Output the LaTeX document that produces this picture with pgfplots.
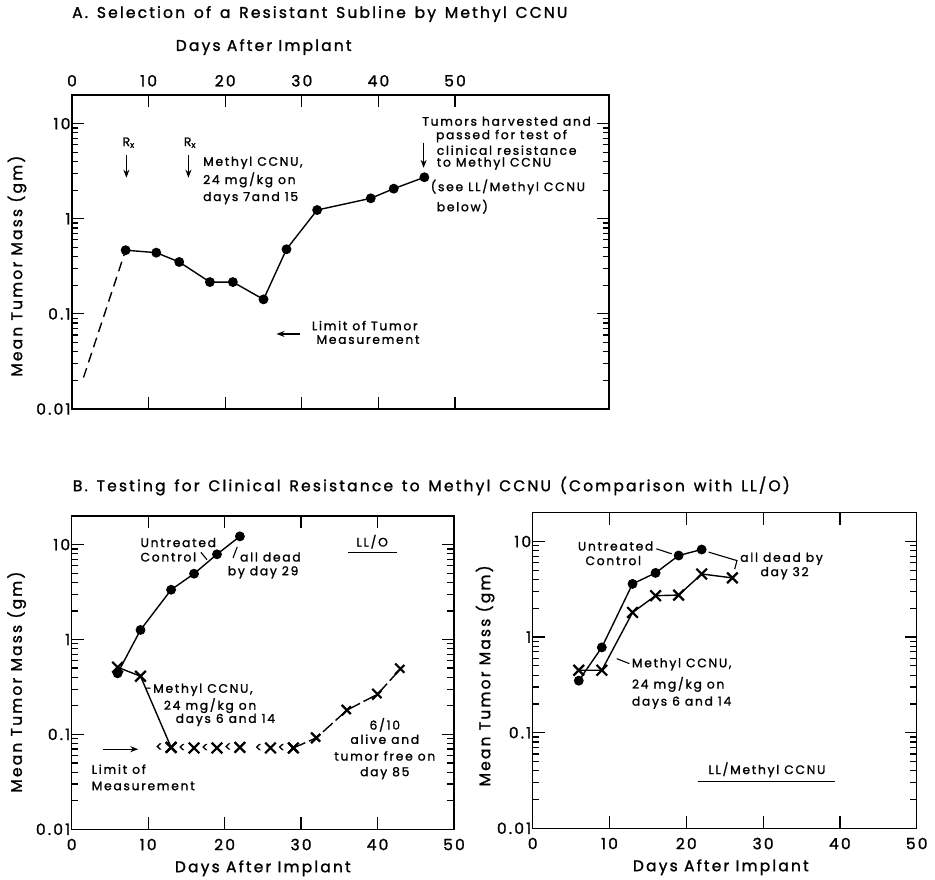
\documentclass[border=0pt]{standalone}
\usepackage{fontspec}
\setmainfont{Poppins}[LetterSpace=14, FakeBold=1.4]
\newfontfamily\titlefont{Poppins}[LetterSpace=14, FakeBold=1.4, WordSpace=1.4]
\usepackage{pgfplots}
\pgfplotsset{compat=1.18}
\usetikzlibrary{arrows.meta}
\newcommand{\ann}{\fontsize{12.3}{13}\selectfont}
\pgfplotsset{
  myaxis/.style={
    scale only axis, clip=false,
    xmin=0, xmax=50, ymin=0.01, ymax=20,
    xtick={0,10,20,30,40,50},
    ytick={0.01,0.1,1,10}, yticklabels={0.01,0.1,1,10},
    minor ytick={0.02,0.03,0.04,0.05,0.06,0.07,0.08,0.09,0.2,0.3,0.4,0.5,0.6,0.7,0.8,0.9,2,3,4,5,6,7,8,9},
    tick align=inside,
    major tick length=12pt, minor tick length=6.5pt,
    axis line style={line width=1.4pt},
    tick style={black, line width=1.2pt},
    tick label style={font=\fontsize{15.5}{16}\selectfont},
    yticklabel style={xshift=2pt},
    xlabel style={font=\fontsize{15.5}{16}\selectfont, anchor=center},
    ylabel style={font=\fontsize{15.5}{16}\selectfont, anchor=center},
    /pgf/number format/assume math mode=true,
    yticklabel pos=left,
    ylabel={Mean Tumor Mass (gm)},
    xlabel={Days After Implant},
    anchor=south west,
  },
  myctrl/.style={black, line width=1.4pt, mark=*, mark size=4.2pt},
  mydrug/.style={black, line width=1.4pt, mark=x, mark size=7.5pt, mark options={line width=2.2pt}},
}
\tikzset{
  txt/.style={inner sep=0pt, font=\ann},
  arr/.style={line width=1.3pt, -{Stealth[length=8pt,width=6pt]}},
}
\begin{document}
\begin{tikzpicture}
\useasboundingbox (0pt,0pt) rectangle (935pt,880pt);
\node[anchor=west, inner sep=0pt, font=\titlefont\fontsize{15.5}{16}\selectfont] at (72pt,866pt) {A. Selection of a Resistant Subline by Methyl CCNU};
\node[anchor=west, inner sep=0pt, font=\titlefont\fontsize{15.5}{16}\selectfont] at (72.7pt,394pt) {B. Testing for Clinical Resistance to Methyl CCNU (Comparison with LL/O)};

% ---------------- Panel A ----------------
\begin{semilogyaxis}[myaxis, at={(72pt,471pt)}, width=537pt, height=314pt, xmax=70.1, xticklabel pos=upper,
  xticklabel style={yshift=5pt},
  xlabel style={at={(axis description cs:0.357,1)}, yshift=48pt},
  ylabel style={at={(axis description cs:-0.1024,0.455)}}]
\addplot[black, line width=1.4pt, dash pattern=on 10pt off 6pt] coordinates {(1.5,0.0214) (7,0.467)};
\addplot[myctrl] coordinates {(7,0.467) (11,0.44) (14,0.351) (18,0.216) (21,0.216) (25,0.142) (28,0.478) (32,1.235) (39,1.64) (42,2.07) (46,2.73)};
\node[txt] at (axis cs:7.4,6.3) {R\textsubscript{x}};
\node[txt] at (axis cs:15.4,6.3) {R\textsubscript{x}};
\draw[arr] (axis cs:7.1,4.7) -- (axis cs:7.1,2.7);
\draw[arr] (axis cs:15.2,4.7) -- (axis cs:15.2,2.7);
\node[txt, anchor=west] at (axis cs:17.1,3.87) {Methyl CCNU,};
\node[txt, anchor=west] at (axis cs:17.1,2.56) {24 mg/kg on};
\node[txt, anchor=west] at (axis cs:17.1,1.65) {days 7and 15};
\draw[arr] (axis cs:29.8,0.0615) -- (axis cs:26.7,0.0615);
\node[txt, anchor=west] at (axis cs:31.3,0.0753) {Limit of Tumor};
\node[txt, anchor=west] at (axis cs:31.9,0.0536) {Measurement};
\node[txt, anchor=west] at (axis cs:45.7,10.6) {Tumors harvested and};
\node[txt, anchor=west] at (axis cs:47.5,7.4) {passed for test of};
\node[txt, anchor=west] at (axis cs:47.6,5.25) {clinical resistance};
\node[txt, anchor=west] at (axis cs:47.6,3.8) {to Methyl CCNU};
\draw[arr] (axis cs:45.9,6.3) -- (axis cs:45.9,3.43);
\node[txt, anchor=west] at (axis cs:46.8,2.16) {(see LL/Methyl CCNU};
\node[txt, anchor=west] at (axis cs:47.6,1.34) {below)};
\end{semilogyaxis}

% ---------------- Panel B left ----------------
\begin{semilogyaxis}[myaxis, at={(71.7pt,50.7pt)}, width=382.3pt, height=313.3pt,
  xticklabel style={yshift=-6pt},
  xlabel style={at={(axis description cs:0.5,0)}, yshift=-39pt},
  ylabel style={at={(axis description cs:-0.1439,0.47)}}]
\addplot[myctrl] coordinates {(6,0.44) (9,1.26) (13,3.34) (16,4.93) (19,7.9) (22,12.2)};
\addplot[mydrug] coordinates {(6,0.51) (9,0.41) (13,0.073)};
\addplot[mydrug, only marks, nodes near coords={<}, nodes near coords align={anchor=center},
  every node near coord/.append style={xshift=-12pt, font=\fontsize{13}{13}\selectfont, inner sep=0pt}]
  coordinates {(13,0.073) (16,0.072) (19,0.072) (22,0.073) (26,0.072) (29,0.072)};
\addplot[mydrug, dash pattern=on 13pt off 4pt] coordinates {(29,0.072) (32,0.092) (36,0.18) (40,0.265) (43,0.49)};
\node[txt, anchor=east] at (axis cs:18.9,10.5) {Untreated};
\node[txt, anchor=east] at (axis cs:16.3,7.4) {Control};
\draw[line width=1.1pt] (axis cs:16.9,8.28) -- (axis cs:17.7,6.93);
\node[txt, anchor=west] at (axis cs:22.0,7.4) {all dead};
\node[txt, anchor=west] at (axis cs:20.4,5.1) {by day 29};
\draw[line width=1.1pt] (axis cs:21.1,7.23) -- (axis cs:21.65,9.44);
\node[txt] at (axis cs:39.3,10.7) {LL/O};
\draw[line width=1.3pt] (axis cs:36.2,8.28) -- (axis cs:42.6,8.28);
\node[txt] at (axis cs:16.6,0.295) {-Methyl CCNU,};
\node[txt] at (axis cs:18.1,0.201) {24 mg/kg on};
\node[txt] at (axis cs:20.1,0.142) {days 6 and 14};
\draw[arr] (axis cs:4.13,0.0698) -- (axis cs:8.7,0.0698);
\node[txt, anchor=west] at (axis cs:2.6,0.043) {Limit of};
\node[txt, anchor=west] at (axis cs:2.6,0.0286) {Measurement};
\node[txt] at (axis cs:40.95,0.126) {6/10};
\node[txt] at (axis cs:40.95,0.0889) {alive and};
\node[txt] at (axis cs:40.95,0.0593) {tumor free on};
\node[txt] at (axis cs:40.95,0.039) {day 85};
\end{semilogyaxis}

% ---------------- Panel B right ----------------
\begin{semilogyaxis}[myaxis, at={(532.7pt,51.7pt)}, width=384pt, height=315.6pt,
  xticklabel style={yshift=-6pt},
  xlabel style={at={(axis description cs:0.49,0)}, yshift=-39pt},
  ylabel style={at={(axis description cs:-0.124,0.483)}}]
\addplot[myctrl] coordinates {(6,0.35) (9,0.78) (13,3.6) (16,4.69) (19,7.13) (22,8.24)};
\addplot[mydrug] coordinates {(6,0.45) (9,0.45) (13,1.81) (16,2.71) (19,2.75) (22,4.57) (26,4.16)};
\node[txt] at (axis cs:10.8,8.95) {Untreated};
\node[txt] at (axis cs:10.5,6.31) {Control};
\draw[line width=1.1pt] (axis cs:16.1,8.38) -- (axis cs:18.1,7.43);
\node[txt] at (axis cs:32.4,6.58) {all dead by};
\node[txt] at (axis cs:32.8,4.66) {day 32};
\draw[line width=1.1pt] (axis cs:22.9,7.74) -- (axis cs:26.6,6.31) -- (axis cs:26.3,5.13);
\node[txt, anchor=west] at (axis cs:12.9,0.519) {Methyl CCNU,};
\node[txt, anchor=west] at (axis cs:12.9,0.32) {24 mg/kg on};
\node[txt, anchor=west] at (axis cs:12.9,0.206) {days 6 and 14};
\draw[line width=1.1pt] (axis cs:10.94,0.595) -- (axis cs:12.58,0.528);
\node[txt] at (axis cs:30.5,0.0409) {LL/Methyl CCNU};
\draw[line width=1.3pt] (axis cs:21.5,0.0309) -- (axis cs:39.4,0.0309);
\end{semilogyaxis}
\end{tikzpicture}
\end{document}
